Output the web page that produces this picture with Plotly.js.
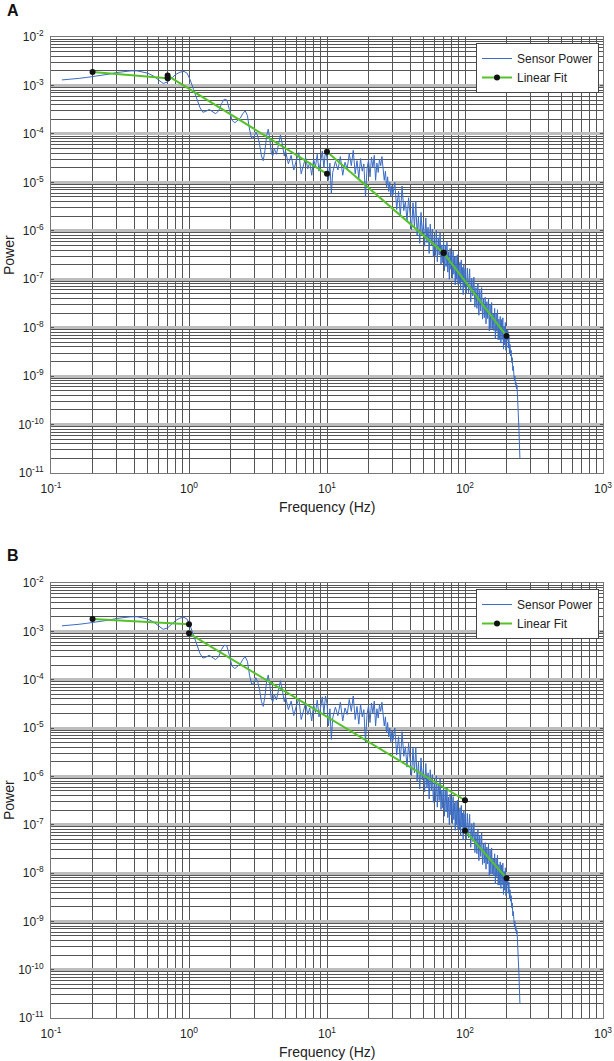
<!DOCTYPE html>
<html>
<head>
<meta charset="utf-8">
<script src="https://cdn.plot.ly/plotly-3.0.1.min.js"></script>
<style>html,body{margin:0;padding:0;background:#fff}#chart{width:614px;height:1061px}</style>
</head>
<body>
<div id="chart"></div>
<script>
// ---- Sensor power spectrum (same signal in both panels) ----
const freqLow = [
0.12,0.14,0.16,0.18,0.2,0.23,0.26,0.3,0.34,0.38,
0.42,0.46,0.5,0.55,0.6,0.65,0.7,0.75,0.8,0.86,
0.92,0.97,1.02,1.08,1.14,1.2,1.26,1.32,1.4,1.48,
1.56,1.64,1.72,1.8,1.88,1.96,2.05,2.15,2.25,2.35,
2.45,2.55,2.65,2.75,2.85,2.95,3.05,3.15,3.25,3.35,
3.45,3.55,3.65,3.75,3.85,3.95,4.05,4.15,4.3,4.45,
4.6,4.75,4.9];
const powerLow = [
1.30e-3,1.34e-3,1.40e-3,1.46e-3,1.52e-3,1.60e-3,1.70e-3,1.85e-3,1.95e-3,2.0e-3,
2.0e-3,1.92e-3,1.80e-3,1.58e-3,1.30e-3,1.10e-3,1.18e-3,1.42e-3,1.68e-3,1.88e-3,
1.95e-3,1.78e-3,1.30e-3,8.2e-4,5.0e-4,3.5e-4,2.8e-4,2.9e-4,3.2e-4,2.9e-4,
2.6e-4,3.0e-4,4.2e-4,5.2e-4,5.0e-4,3.2e-4,1.9e-4,1.7e-4,1.9e-4,2.1e-4,
2.6e-4,3.0e-4,2.4e-4,1.2e-4,8.0e-5,8.5e-5,1.1e-4,9.0e-5,6.0e-5,3.5e-5,
2.8e-5,4.5e-5,9.0e-5,1.25e-4,8.0e-5,4.0e-5,3.5e-5,5.0e-5,3.8e-5,6.0e-5,
9.5e-5,6.0e-5,3.5e-5];

const freqMid = [
5,5.25,5.5,5.75,6,6.25,6.5,6.75,7,7.25,
7.5,7.75,8,8.25,8.5,8.75,9,9.25,9.5,9.75,
10,10.25,10.5,10.75,11,
11.5,12,12.5,13,13.5,14,14.5,15,15.5,16,
16.5,17,17.5,18,18.5,19,19.5,20,20.5,21,
21.5,22,22.5,23,23.5,24,24.5,25,25.5,26,
26.5,27,27.5,28,28.5,29,29.5,30];
const powerMid = [
4.5e-5,2.4e-5,3.6e-5,1.8e-5,2.9e-5,4.1e-5,1.5e-5,2.2e-5,3.3e-5,1.9e-5,
2.6e-5,1.4e-5,3.0e-5,2.1e-5,3.8e-5,1.7e-5,2.8e-5,4.4e-5,2.0e-5,4.6e-5,
3.2e-5,1.1e-5,2.5e-5,5.8e-6,1.6e-5,
2.7e-5,1.8e-5,3.4e-5,1.4e-5,2.6e-5,1.9e-5,3.9e-5,2.2e-5,4.6e-5,1.5e-5,
2.8e-5,1.2e-5,3.1e-5,1.7e-5,2.4e-5,5.0e-6,1.9e-5,2.9e-5,1.3e-5,3.3e-5,
2.0e-5,3.6e-5,1.1e-5,2.5e-5,1.6e-5,3.0e-5,2.2e-5,3.4e-5,1.5e-5,1.1e-5,
1.7e-5,8.0e-6,1.3e-5,6.5e-6,1.0e-5,5.2e-6,8.5e-6,5.5e-6];

const freqHigh = [
31,32,33,34,35,36,37,38,39,40,
41,42,43,44,45,46,47,48,49,50,
51,52,53,54,55,56,57,58,59,60,
61,62,63,64,65,66,67,68,69,70,
71,72,73,74,75,76,77,78,79,80,
81,82,83,84,85,86,87,88,89,90,
91,92,93,94,95,96,97,98,99,100];
const powerHigh = [
1.0e-5,2.75e-6,6.6e-6,2.0e-6,8.4e-6,2.6e-6,4.1e-6,1.55e-6,4.8e-6,2.0e-6,
1.04e-6,3.8e-6,1.17e-6,4.0e-6,8.0e-7,1.95e-6,5.5e-7,2.4e-6,8.4e-7,1.5e-6,
4.8e-7,1.84e-6,5.7e-7,1.18e-6,3.4e-7,1.37e-6,5.0e-7,1.09e-6,2.9e-7,7.8e-7,
3.1e-7,1.03e-6,2.3e-7,7.2e-7,3.15e-7,9.0e-7,2.05e-7,5.1e-7,2.2e-7,6.0e-7,
1.5e-7,5.1e-7,1.83e-7,5.8e-7,1.4e-7,3.7e-7,1.0e-7,4.3e-7,1.6e-7,3.3e-7,
1.05e-7,3.8e-7,1.27e-7,2.85e-7,7.6e-8,3.0e-7,1.0e-7,3.2e-7,7.8e-8,1.95e-7,
8.0e-8,2.24e-7,6.1e-8,2.5e-7,9.1e-8,1.75e-7,4.8e-8,2.0e-7,6.8e-8,1.65e-7];

const freqTop = [
102,104,106,108,110,112,114,116,118,120,
122,124,126,128,130,132,134,136,138,140,
142,144,146,148,150,152,154,156,158,160,
162,164,166,168,170,172,174,176,178,180,
182,184,186,188,190,192,194,196,198,200,
202,204,206,208,210,212,214,216,218,220,
222,224,226,228,230,232,234,236,238,240,
242,244,246,248,250];
const powerTop = [
5.0e-8,1.7e-7,5.3e-8,1.64e-7,3.4e-8,1.05e-7,4.5e-8,1.1e-7,2.65e-8,6.7e-8,
2.5e-8,8.2e-8,1.8e-8,5.9e-8,2.2e-8,6.7e-8,1.5e-8,4.0e-8,1.6e-8,4.25e-8,
1.2e-8,3.45e-8,1.54e-8,4.0e-8,8.6e-9,2.96e-8,9.6e-9,3.3e-8,9.6e-9,1.95e-8,
8.7e-9,2.5e-8,6.1e-9,1.95e-8,8.4e-9,2.34e-8,5.6e-9,1.5e-8,5.7e-9,1.7e-8,
4.8e-9,1.47e-8,5.7e-9,1.6e-8,3.6e-9,1.08e-8,4.4e-9,1.28e-8,3.4e-9,8.5e-9,
5.5e-9,9.0e-9,3.8e-9,6.5e-9,3.0e-9,4.5e-9,2.6e-9,3.4e-9,1.9e-9,2.4e-9,
1.3e-9,1.6e-9,1.1e-9,8.0e-10,1.0e-9,6.5e-10,7.5e-10,5.5e-10,6.5e-10,4.0e-10,
1.5e-10,1.2e-10,8.0e-11,4.0e-11,2.0e-11];

// ---- Piecewise linear fits (null = break between segments) ----
const fitA_freq  = [0.2, 0.7, null, 0.7, 10, null, 10, 70, null, 70, 200];
const fitA_power = [1.9e-3, 1.4e-3, null, 1.6e-3, 1.5e-5, null, 4.3e-5, 3.5e-7, null, 3.5e-7, 6.7e-9];
const fitB_freq  = [0.2, 1, null, 1, 100, null, 100, 200];
const fitB_power = [1.8e-3, 1.4e-3, null, 9.1e-4, 3.2e-7, null, 7.5e-8, 7.8e-9];

// ---- Ticks ----
const xTickVals = [0.1, 1, 10, 100, 1000];
const xTickText = ['10<sup>-1</sup>','10<sup>0</sup>','10<sup>1</sup>','10<sup>2</sup>','10<sup>3</sup>'];
const yTickVals = [1e-11,1e-10,1e-9,1e-8,1e-7,1e-6,1e-5,1e-4,1e-3,1e-2];
const yTickText = ['10<sup>-11</sup>','10<sup>-10</sup>','10<sup>-9</sup>','10<sup>-8</sup>','10<sup>-7</sup>',
                   '10<sup>-6</sup>','10<sup>-5</sup>','10<sup>-4</sup>','10<sup>-3</sup>','10<sup>-2</sup>'];

const freq = freqLow.concat(freqMid, freqHigh, freqTop);
const sensorPower = powerLow.concat(powerMid, powerHigh, powerTop);

const W = 614, H = 1061;
const FONT = 'Liberation Sans, Arial, sans-serif';
const blue = '#3a6cc4';
const green = '#55c22a';

function traces(xa, ya, leg, fx, fy) {
  return [
    {x: freq, y: sensorPower, type: 'scatter', mode: 'lines', name: 'Sensor Power',
     xaxis: xa, yaxis: ya, legend: leg, line: {color: blue, width: 1}},
    {x: fx, y: fy, type: 'scatter', mode: 'lines+markers', name: 'Linear Fit',
     xaxis: xa, yaxis: ya, legend: leg, connectgaps: false,
     line: {color: green, width: 2}, marker: {color: '#111', size: 6}}
  ];
}

function xAxis(dom, anchor) {
  return {type: 'log', domain: dom, anchor: anchor, range: [-1, 3],
    tickvals: xTickVals, ticktext: xTickText, tickfont: {family: FONT, size: 12, color: '#222'},
    ticks: 'inside', ticklen: 3, tickcolor: '#555', ticklabelstandoff: 5,
    showgrid: true, gridcolor: '#555', gridwidth: 1,
    minor: {dtick: 'D1', showgrid: true, gridcolor: '#555', gridwidth: 1, ticks: 'inside', ticklen: 2, tickcolor: '#555'},
    showline: true, mirror: 'allticks', linecolor: '#777', linewidth: 1, zeroline: false};
}
function yAxis(dom, anchor) {
  return {type: 'log', domain: dom, anchor: anchor, range: [-11, -2],
    tickvals: yTickVals, ticktext: yTickText, tickfont: {family: FONT, size: 12, color: '#222'},
    ticks: 'inside', ticklen: 3, tickcolor: '#555', ticklabelstandoff: 4,
    showgrid: true, gridcolor: '#bdbdbd', gridwidth: 3,
    minor: {dtick: 'D1', showgrid: true, gridcolor: '#555', gridwidth: 1, ticks: 'inside', ticklen: 2, tickcolor: '#555'},
    showline: true, mirror: 'allticks', linecolor: '#777', linewidth: 1, zeroline: false};
}

const xDom = [51/W, 603/W];
const yDomA = [1 - 473/H, 1 - 37/H];
const yDomB = [1 - 1018/H, 1 - 583/H];

const legendStyle = (top) => ({x: 599/W, xanchor: 'right', y: 1 - top/H, yanchor: 'top',
  bgcolor: '#fff', bordercolor: '#444', borderwidth: 1,
  font: {family: FONT, size: 12, color: '#222'}, itemwidth: 30, tracegroupgap: 0});

const ann = (text, x, y, opts) => Object.assign({text: text, xref: 'paper', yref: 'paper',
  x: x / W, y: 1 - y / H, xanchor: 'center', yanchor: 'middle', showarrow: false,
  font: {family: FONT, size: 14, color: '#222'}}, opts || {});

const layout = {
  width: W, height: H, margin: {l: 0, r: 0, t: 0, b: 0},
  paper_bgcolor: '#fff', plot_bgcolor: '#fff', showlegend: true,
  xaxis: xAxis(xDom, 'y'), yaxis: yAxis(yDomA, 'x'),
  xaxis2: xAxis(xDom, 'y2'), yaxis2: yAxis(yDomB, 'x2'),
  legend: legendStyle(43), legend2: legendStyle(589),
  annotations: [
    ann('<b>A</b>', 13, 11, {font: {family: FONT, size: 16, color: '#111'}}),
    ann('<b>B</b>', 13, 555, {font: {family: FONT, size: 16, color: '#111'}}),
    ann('Power', 9, 255, {textangle: -90}),
    ann('Power', 9, 800, {textangle: -90}),
    ann('Frequency (Hz)', 327, 507),
    ann('Frequency (Hz)', 327, 1052)
  ]
};

const data = traces('x', 'y', 'legend', fitA_freq, fitA_power)
  .concat(traces('x2', 'y2', 'legend2', fitB_freq, fitB_power));

Plotly.newPlot('chart', data, layout, {staticPlot: true, displayModeBar: false});
</script>
</body>
</html>
